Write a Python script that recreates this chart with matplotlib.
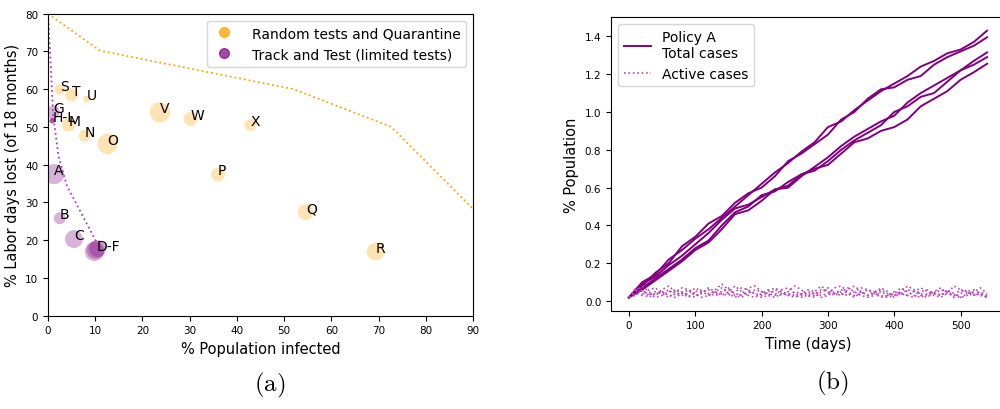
import numpy as np
import matplotlib
matplotlib.use("Agg")
import matplotlib.pyplot as plt
from matplotlib.lines import Line2D

plt.rcParams.update({
    'font.family': 'DejaVu Sans',
    'xtick.labelsize': 7.5,
    'ytick.labelsize': 7.5,
    'axes.labelsize': 10.5,
    'legend.fontsize': 10,
    'mathtext.fontset': 'cm',
})

# --- panel (a): labor days lost vs infected ---
rq_labels = ['S', 'T', 'U', 'M', 'N', 'O', 'V', 'W', 'X', 'P', 'Q', 'R']
rq_infected = [2.5, 5.0, 8.2, 4.3, 7.8, 12.6, 23.7, 30.2, 42.9, 36.0, 54.6, 69.4]
rq_lost = [59.9, 58.5, 57.4, 50.5, 47.7, 45.5, 53.9, 52.1, 50.5, 37.4, 27.4, 17.0]
rq_size = [55, 90, 25, 90, 75, 210, 210, 100, 75, 100, 130, 165]

tt_labels = ['G', 'H-L', 'A', 'B', 'C', 'D-F']
tt_infected = [1.1, 0.9, 1.3, 2.5, 5.5, 10.3]
tt_lost = [53.9, 51.7, 37.5, 25.8, 20.3, 17.4]
# individual runs (H-L and D-F are several overlapping runs)
tt_pts_x = [1.1, 0.9, 0.9, 0.9, 1.3, 2.5, 5.5, 9.8, 10.1, 10.5]
tt_pts_y = [53.9, 51.7, 51.7, 51.6, 37.5, 25.8, 20.3, 17.0, 17.4, 17.8]
tt_pts_s = [90, 15, 15, 15, 210, 75, 165, 190, 170, 150]

rq_front_x = [0, 11, 52, 72.7, 90]
rq_front_y = [80, 70.2, 60.0, 50.0, 28.3]
tt_front_x = [0, 0.6, 1.1, 2.2, 4.0, 10.3]
tt_front_y = [80, 66, 53, 42.4, 34.4, 19.4]

# --- panel (b): simulated cases over time ---
days_total = np.arange(0, 541, 20)
total_runs = [
    [0.02, 0.10, 0.14, 0.22, 0.27, 0.33, 0.38, 0.44, 0.50, 0.56, 0.62, 0.68, 0.73, 0.79,
     0.84, 0.92, 0.95, 1.01, 1.06, 1.11, 1.15, 1.19, 1.24, 1.27, 1.31, 1.33, 1.37, 1.43],
    [0.02, 0.08, 0.15, 0.20, 0.29, 0.34, 0.41, 0.45, 0.52, 0.57, 0.60, 0.66, 0.74, 0.78,
     0.83, 0.88, 0.96, 1.00, 1.07, 1.12, 1.13, 1.17, 1.19, 1.25, 1.29, 1.32, 1.35, 1.395],
    [0.02, 0.09, 0.13, 0.19, 0.24, 0.30, 0.36, 0.43, 0.49, 0.51, 0.55, 0.59, 0.60, 0.66,
     0.71, 0.76, 0.82, 0.87, 0.91, 0.95, 0.98, 1.05, 1.10, 1.14, 1.18, 1.22, 1.27, 1.315],
    [0.02, 0.07, 0.12, 0.17, 0.22, 0.28, 0.32, 0.40, 0.47, 0.50, 0.56, 0.58, 0.63, 0.67,
     0.69, 0.74, 0.80, 0.85, 0.89, 0.93, 1.00, 1.03, 1.08, 1.10, 1.16, 1.22, 1.25, 1.29],
    [0.02, 0.06, 0.11, 0.16, 0.21, 0.27, 0.31, 0.38, 0.46, 0.48, 0.53, 0.59, 0.61, 0.67,
     0.70, 0.72, 0.78, 0.84, 0.86, 0.90, 0.92, 0.96, 1.03, 1.07, 1.11, 1.17, 1.21, 1.255],
]

days_active = np.arange(0, 541, 10)
active_runs = [
    [0.02, 0.05, 0.08, 0.05, 0.03, 0.06, 0.08, 0.05, 0.03, 0.04, 0.07,
     0.05, 0.03, 0.06, 0.09, 0.06, 0.04, 0.03, 0.05, 0.04, 0.02, 0.03,
     0.06, 0.05, 0.03, 0.02, 0.04, 0.06, 0.05, 0.03, 0.04, 0.07, 0.08,
     0.05, 0.03, 0.04, 0.06, 0.04, 0.02, 0.03, 0.05, 0.04, 0.03, 0.05,
     0.07, 0.05, 0.03, 0.02, 0.04, 0.08, 0.06, 0.04, 0.03, 0.05, 0.03],
    [0.02, 0.04, 0.03, 0.06, 0.07, 0.04, 0.02, 0.05, 0.07, 0.06, 0.03,
     0.04, 0.07, 0.05, 0.03, 0.05, 0.08, 0.05, 0.03, 0.02, 0.04, 0.06,
     0.04, 0.03, 0.05, 0.08, 0.06, 0.03, 0.02, 0.05, 0.07, 0.04, 0.03,
     0.06, 0.08, 0.05, 0.03, 0.04, 0.07, 0.05, 0.02, 0.04, 0.06, 0.05,
     0.03, 0.02, 0.05, 0.07, 0.04, 0.03, 0.06, 0.05, 0.03, 0.04, 0.02],
    [0.02, 0.06, 0.04, 0.02, 0.04, 0.05, 0.03, 0.02, 0.04, 0.06, 0.04,
     0.02, 0.03, 0.05, 0.07, 0.04, 0.02, 0.04, 0.07, 0.08, 0.05, 0.03,
     0.02, 0.04, 0.03, 0.05, 0.04, 0.02, 0.05, 0.08, 0.05, 0.04, 0.06,
     0.04, 0.02, 0.05, 0.03, 0.05, 0.06, 0.04, 0.03, 0.05, 0.08, 0.06,
     0.04, 0.03, 0.04, 0.06, 0.05, 0.03, 0.02, 0.03, 0.06, 0.04, 0.02],
    [0.02, 0.07, 0.05, 0.04, 0.02, 0.03, 0.05, 0.06, 0.04, 0.02, 0.05,
     0.06, 0.04, 0.03, 0.04, 0.03, 0.05, 0.07, 0.06, 0.04, 0.03, 0.05,
     0.07, 0.05, 0.04, 0.03, 0.02, 0.04, 0.03, 0.06, 0.05, 0.03, 0.05,
     0.07, 0.05, 0.03, 0.02, 0.03, 0.05, 0.03, 0.04, 0.07, 0.05, 0.03,
     0.02, 0.04, 0.05, 0.03, 0.06, 0.04, 0.02, 0.04, 0.05, 0.07, 0.04],
    [0.02, 0.03, 0.06, 0.03, 0.05, 0.04, 0.06, 0.03, 0.05, 0.03, 0.02,
     0.05, 0.06, 0.04, 0.05, 0.07, 0.03, 0.02, 0.04, 0.06, 0.05, 0.04,
     0.03, 0.06, 0.07, 0.04, 0.03, 0.05, 0.04, 0.02, 0.03, 0.05, 0.04,
     0.03, 0.05, 0.07, 0.06, 0.05, 0.03, 0.02, 0.03, 0.04, 0.03, 0.02,
     0.05, 0.06, 0.04, 0.03, 0.05, 0.02, 0.04, 0.06, 0.04, 0.03, 0.02],
]

fig = plt.figure(figsize=(10, 4.1), dpi=100)

# ---------- (a) ----------
ax1 = fig.add_axes([0.048, 0.2276, 0.425, 0.7366])
ax1.plot(rq_front_x, rq_front_y, ':', color='orange', lw=1.3)
ax1.plot(tt_front_x, tt_front_y, ':', color='#b040b0', lw=1.3)
ax1.scatter(rq_infected, rq_lost, s=rq_size, color='orange', alpha=0.3, edgecolors='none')
ax1.scatter(tt_pts_x, tt_pts_y, s=tt_pts_s, color='purple', alpha=0.3, edgecolors='none')
for lab, x, y in zip(rq_labels, rq_infected, rq_lost):
    ax1.annotate(lab, (x, y), fontsize=10)
for lab, x, y in zip(tt_labels, tt_infected, tt_lost):
    ax1.annotate(lab, (x, y), fontsize=10)
ax1.set_xlim(0, 90)
ax1.set_ylim(0, 80)
ax1.set_xlabel('% Population infected')
ax1.set_ylabel('% Labor days lost (of 18 months)')
handles = [
    Line2D([], [], ls='', marker='o', ms=7, color='orange', alpha=0.75),
    Line2D([], [], ls='', marker='o', ms=7, color='purple', alpha=0.7),
]
ax1.legend(handles, ['Random tests and Quarantine', 'Track and Test (limited tests)'],
           loc='upper right', handletextpad=1.2, handlelength=1.6)

# ---------- (b) ----------
ax2 = fig.add_axes([0.611, 0.2398, 0.394, 0.7156])
for i, run in enumerate(total_runs):
    ax2.plot(days_total, run, color='purple', lw=1.4,
             label='Policy A\nTotal cases' if i == 0 else None)
for i, run in enumerate(active_runs):
    ax2.plot(days_active, run, ':', color='#b848b8', lw=1.2,
             label='Active cases' if i == 0 else None)
ax2.set_xticks([0, 100, 200, 300, 400, 500])
ax2.set_yticks(np.arange(0, 1.41, 0.2))
ax2.set_xlabel('Time (days)')
ax2.set_ylabel('% Population')
ax2.legend(loc='upper left')

fig.text(0.270, 0.06, r'$\mathrm{(a)}$', ha='center', va='center', fontsize=18)
fig.text(0.832, 0.065, r'$\mathrm{(b)}$', ha='center', va='center', fontsize=18)

fig.savefig('out.png', dpi=100)
